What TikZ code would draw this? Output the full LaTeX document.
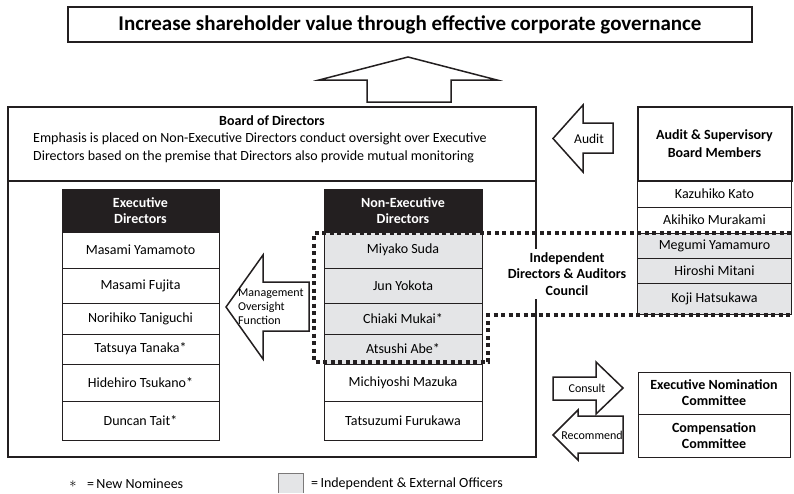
\documentclass[tikz,border=0pt]{standalone}
\usepackage{fontspec}
\setmainfont{Carlito}
\usepackage{tikz}
\usetikzlibrary{positioning}
\definecolor{inkc}{RGB}{35,31,32}
\definecolor{indepc}{RGB}{228,229,231}

\begin{document}
\begin{tikzpicture}[x=1pt,y=-1pt,
	box/.style={draw=inkc, line width=1pt, inner sep=0pt, outer sep=0pt, align=center, font=\fontsize{14}{16}\selectfont},
	headbox/.style={box, fill=inkc, text=white, font=\fontsize{14}{16}\selectfont\bfseries},
	namebox/.style={box, minimum width=157pt},
	indep/.style={fill=indepc},
	frame/.style={draw=inkc, line width=2pt, inner sep=0pt, outer sep=0pt},
	blockarrow/.style={draw=inkc, line width=1.5pt, fill=white, line join=miter},
	councilline/.style={draw=inkc, line width=3.5pt, dash pattern=on 4pt off 3.5pt},
	small/.style={font=\fontsize{12}{14}\selectfont, inner sep=0pt}]
	\useasboundingbox (0,0) rectangle (794,493);

	\node[frame, minimum width=684pt, minimum height=35pt, font=\fontsize{21}{24}\selectfont\bfseries] (goal) at (410,24.5) {Increase shareholder value through effective corporate governance};
	\draw[blockarrow] (367,102) -- (367,80) -- (319,80) -- (408,57) -- (497,80) -- (451,80) -- (451,102) -- cycle;

	\node[frame, minimum width=528pt, minimum height=350pt] (board) at (272,282) {};
	\node[frame, minimum width=528pt, minimum height=74pt, anchor=north] (boardhead) at (board.north) {};
	\node[font=\fontsize{14}{16}\selectfont\bfseries] (boardtitle) at (272,121) {Board of Directors};
	\node[anchor=west, align=left, inner sep=0pt, font=\fontsize{14}{18}\selectfont] (boardnote) at (33,148) {Emphasis is placed on Non-Executive Directors conduct oversight over Executive\\Directors based on the premise that Directors also provide mutual monitoring};

	\node[headbox, minimum width=157pt, minimum height=43pt] (exhead) at (140.5,210.5) {Executive\\Directors};
	\node[namebox, minimum height=36pt, below=0pt of exhead] (ex1) {Masami Yamamoto};
	\node[namebox, minimum height=35pt, below=0pt of ex1] (ex2) {Masami Fujita};
	\node[namebox, minimum height=31pt, below=0pt of ex2] (ex3) {Norihiko Taniguchi};
	\node[namebox, minimum height=30pt, below=0pt of ex3] (ex4) {Tatsuya Tanaka*};
	\node[namebox, minimum height=37pt, below=0pt of ex4] (ex5) {Hidehiro Tsukano*};
	\node[namebox, minimum height=39pt, below=0pt of ex5] (ex6) {Duncan Tait*};

	\node[headbox, minimum width=158pt, minimum height=43pt] (nehead) at (403,210.5) {Non-Executive\\Directors};
	\node[namebox, indep, minimum width=158pt, minimum height=36pt, below=0pt of nehead] (ne1) {Miyako Suda};
	\node[namebox, indep, minimum width=158pt, minimum height=35pt, below=0pt of ne1] (ne2) {Jun Yokota};
	\node[namebox, indep, minimum width=158pt, minimum height=31pt, below=0pt of ne2] (ne3) {Chiaki Mukai*};
	\node[namebox, indep, minimum width=158pt, minimum height=30pt, below=0pt of ne3] (ne4) {Atsushi Abe*};
	\node[namebox, minimum width=158pt, minimum height=37pt, below=0pt of ne4] (ne5) {Michiyoshi Mazuka};
	\node[namebox, minimum width=158pt, minimum height=39pt, below=0pt of ne5] (ne6) {Tatsuzumi Furukawa};

	\draw[blockarrow] (309,282) -- (263,282) -- (263,255) -- (226,307) -- (263,359) -- (263,331) -- (309,331) -- cycle;
	\node[small, anchor=west, align=left] (mgmt) at (238,307) {Management\\Oversight\\Function};

	\node[box, line width=2pt, minimum width=154pt, minimum height=74pt, font=\fontsize{14}{18}\selectfont\bfseries] (ashead) at (714.5,144) {Audit \& Supervisory\\Board Members};
	\node[namebox, minimum width=154pt, minimum height=26pt, below=0pt of ashead] (as1) {Kazuhiko Kato};
	\node[namebox, minimum width=154pt, minimum height=26pt, below=0pt of as1] (as2) {Akihiko Murakami};
	\node[namebox, indep, minimum width=154pt, minimum height=25pt, below=0pt of as2] (as3) {Megumi Yamamuro};
	\node[namebox, indep, minimum width=154pt, minimum height=25pt, below=0pt of as3] (as4) {Hiroshi Mitani};
	\node[namebox, indep, minimum width=154pt, minimum height=31pt, below=0pt of as4] (as5) {Koji Hatsukawa};

	\draw[blockarrow] (613,123) -- (583,123) -- (583,105) -- (553,138.5) -- (583,172) -- (583,153) -- (613,153) -- cycle;
	\node[inner sep=0pt, font=\fontsize{13.5}{16}\selectfont] (audit) at (589,139) {Audit};

	\node[fill=white, align=center, inner sep=4pt, font=\fontsize{14}{16.5}\selectfont\bfseries] (council) at (567,274) {Independent\\Directors \& Auditors\\Council};
	\draw[councilline] (791,233) -- (314,233) -- (314,362) -- (488,362) -- (488,315) -- (791,315);

	\node[box, minimum width=152pt, minimum height=42pt, font=\fontsize{14}{16}\selectfont\bfseries] (nomin) at (714,393) {Executive Nomination\\Committee};
	\node[box, minimum width=152pt, minimum height=43pt, below=0pt of nomin, font=\fontsize{14}{16}\selectfont\bfseries] (compen) {Compensation\\Committee};

	\draw[blockarrow] (553,377) -- (596,377) -- (596,362) -- (623,388) -- (596,414) -- (596,400) -- (553,400) -- cycle;
	\node[small] (consult) at (587,388) {Consult};
	\draw[blockarrow] (623,416) -- (578,416) -- (578,410) -- (553,435) -- (578,460) -- (578,453) -- (623,453) -- cycle;
	\node[small] (recommend) at (592,435) {Recommend};

	\node[inner sep=0pt, font=\fontsize{14}{16}\selectfont] (star) at (73,484) {$\ast$};
	\node[anchor=west, inner sep=0pt, font=\fontsize{14}{16}\selectfont] (newnom) at (87,484) {=\,New Nominees};
	\fill[indepc] (278,473) rectangle (303,493);
	\draw[draw=inkc!60, line width=0.8pt] (278,493) -- (278,473) -- (303,473) -- (303,493);
	\node[anchor=west, inner sep=0pt, font=\fontsize{14}{16}\selectfont] (indeplegend) at (311,484) {=\,Independent \& External Officers};
\end{tikzpicture}
\end{document}
